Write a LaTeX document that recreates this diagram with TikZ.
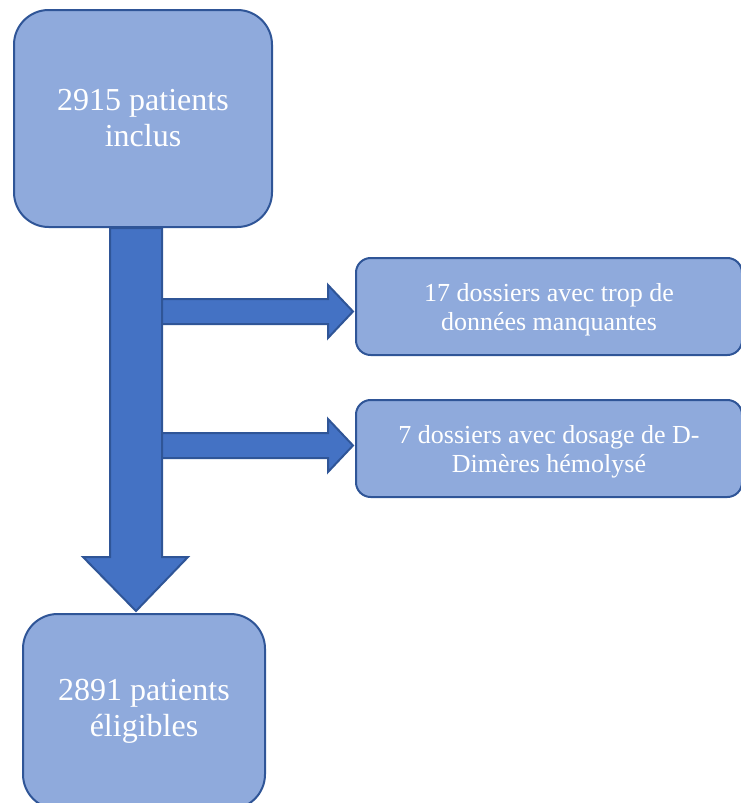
\documentclass[tikz,border=0pt]{standalone}
\usepackage{fontspec}
\setmainfont{Liberation Serif}
\usetikzlibrary{calc}
\definecolor{boxfill}{HTML}{8FAADC}
\definecolor{boxline}{HTML}{2F5597}
\definecolor{arrowfill}{HTML}{4472C4}
\newcommand{\liftstrut}{\rule{0pt}{18.5pt}}
\begin{document}
\begin{tikzpicture}[x=0.75pt,y=-0.75pt,
  bigbox/.style={draw=boxline, fill=boxfill, line width=1.5pt, rounded corners=26pt,
    text=white, align=center, font=\fontsize{24}{27}\selectfont, inner sep=0pt},
  sidebox/.style={draw=boxline, fill=boxfill, line width=1.5pt, rounded corners=11pt,
    text=white, align=center, font=\fontsize{19.5}{22}\selectfont, inner sep=0pt},
  blockarrow/.style={draw=boxline, fill=arrowfill, line width=1.5pt, line join=miter}]
\useasboundingbox (0,0) rectangle (741,803);

\node[bigbox, minimum width=193.5pt, minimum height=162.75pt] (top) at (143,118.5)
  {2915 patients\\inclus};
\node[bigbox, minimum width=181.5pt, minimum height=146.25pt] (bottom) at (144,711.5)
  {2891 patients\\éligibles};
\node[sidebox, minimum width=289.5pt, minimum height=72.75pt] (box1) at (549,306.5)
  {\liftstrut 17 dossiers avec trop de\\données manquantes};
\node[sidebox, minimum width=289.5pt, minimum height=72.75pt] (box2) at (549,448.5)
  {\liftstrut 7 dossiers avec dosage de D-\\Dimères hémolysé};

% big down arrow
\coordinate (tip) at ($(bottom.north)+(-8,-2)$);
\coordinate (hl) at ($(tip)+(-53,-54)$);
\coordinate (hr) at ($(tip)+(52,-54)$);
\coordinate (sl) at ($(tip)+(-26,-54)$);
\coordinate (sr) at ($(tip)+(26,-54)$);
\draw[blockarrow] (sl |- top.south) -- (sl) -- (hl) -- (tip) -- (hr) -- (sr) -- (sr |- top.south) -- cycle;

% right arrow 1
\coordinate (t1) at ($(box1.west)+(-2,5)$);
\coordinate (a1u) at ($(t1)+(-25,-12.5)$);
\coordinate (a1d) at ($(t1)+(-25,12.5)$);
\coordinate (h1u) at ($(t1)+(-25,-26.5)$);
\coordinate (h1d) at ($(t1)+(-25,26.5)$);
\draw[blockarrow] (sr |- a1u) -- (a1u) -- (h1u) -- (t1) -- (h1d) -- (a1d) -- (sr |- a1d) -- cycle;

% right arrow 2
\coordinate (t2) at ($(box2.west)+(-2,-3)$);
\coordinate (a2u) at ($(t2)+(-25,-12.5)$);
\coordinate (a2d) at ($(t2)+(-25,12.5)$);
\coordinate (h2u) at ($(t2)+(-25,-26.5)$);
\coordinate (h2d) at ($(t2)+(-25,26.5)$);
\draw[blockarrow] (sr |- a2u) -- (a2u) -- (h2u) -- (t2) -- (h2d) -- (a2d) -- (sr |- a2d) -- cycle;
\end{tikzpicture}
\end{document}
